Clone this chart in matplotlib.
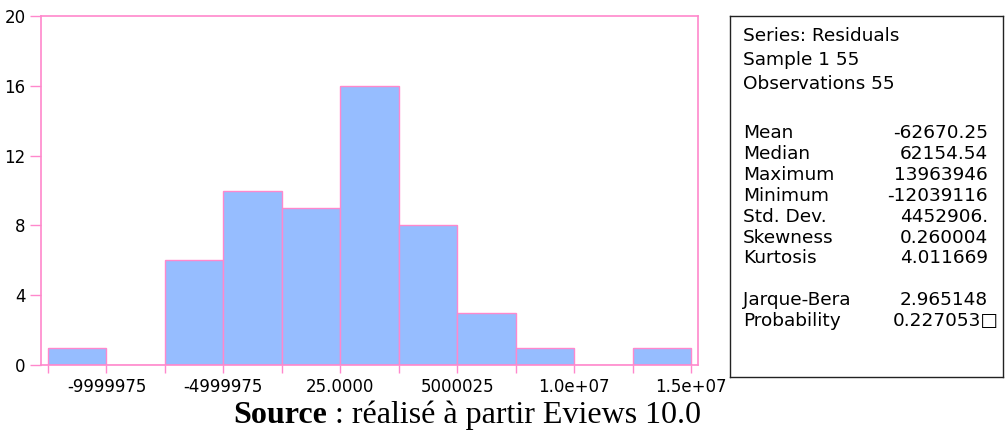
import numpy as np
import matplotlib
matplotlib.use("Agg")
import matplotlib.pyplot as plt

# histogram of residuals (bins of 2.5e6, shifted by 25)
bin_edges = [-12499975, -9999975, -7499975, -4999975, -2499975, 25,
             2500025, 5000025, 7500025, 10000025, 12500025, 15000025]
counts = [1, 0, 6, 10, 9, 16, 8, 3, 1, 0, 1]

xtick_pos = [-9999975, -4999975, 25, 5000025, 10000025, 15000025]
xtick_labels = ["-9999975", "-4999975", "25.0000", "5000025", "1.0e+07", "1.5e+07"]
ytick_pos = [0, 4, 8, 12, 16, 20]

stat_names = ["Mean", "Median", "Maximum", "Minimum", "Std. Dev.",
              "Skewness", "Kurtosis", "Jarque-Bera", "Probability"]
stat_values = ["-62670.25", "62154.54", "13963946", "-12039116", "4452906.",
               "0.260004", "4.011669", "2.965148", "0.227053\u25a1"]
header_lines = ["Series: Residuals", "Sample 1 55", "Observations 55"]

pink = "#ff88cc"
blue = "#96bdff"
W, H = 1007, 432

plt.rcParams['font.family'] = ['DejaVu Sans']
fig = plt.figure(figsize=(W / 100, H / 100), dpi=100)

ax = fig.add_axes([41 / W, 1 - 365 / H, (698 - 41) / W, (365 - 16) / H])
widths = np.diff(bin_edges)
ax.bar(bin_edges[:-1], counts, width=widths, align="edge",
       color=blue, edgecolor=pink, linewidth=1.0)
ax.set_xlim(-12.8e6, 15.3e6)
ax.set_ylim(0, 20)
for s in ax.spines.values():
    s.set_color(pink)
    s.set_linewidth(1.2)
ax.set_xticks(bin_edges, minor=True)
ax.set_xticks(xtick_pos)
ax.set_xticklabels(xtick_labels)
ax.set_yticks(ytick_pos)
ax.tick_params(axis="both", colors=pink, labelcolor="black", labelsize=12, width=1)
ax.tick_params(axis="x", which="both", length=6, pad=3)
ax.tick_params(axis="x", which="minor", colors=pink, width=1)
ax.tick_params(axis="y", length=8, pad=3)

# statistics box
box = fig.add_axes([730 / W, 1 - 377 / H, (1003 - 730) / W, (377 - 16) / H])
box.set_xticks([])
box.set_yticks([])
for s in box.spines.values():
    s.set_color("#222222")
    s.set_linewidth(1)

fs = 13.3
header_y = [36, 60, 84]
stat_y = [133, 154, 175, 196, 217, 238, 258, 300, 321]
for txt, y in zip(header_lines, header_y):
    fig.text(743 / W, 1 - y / H, txt, fontsize=fs, va="center", ha="left")
for name, val, y in zip(stat_names, stat_values, stat_y):
    fig.text(743 / W, 1 - y / H, name, fontsize=fs, va="center", ha="left")
    fig.text(999 / W if val.endswith("\u25a1") else 988 / W, 1 - y / H, val,
             fontsize=fs, va="center", ha="right")

# source line
t1 = fig.text(233 / W, 1 - 423 / H, "Source", fontsize=23, fontweight="bold",
              family="Liberation Serif", va="baseline", ha="left")
fig.canvas.draw()
bb = t1.get_window_extent()
fig.text(bb.x1 / W, 1 - 423 / H, " : réalisé à partir Eviews 10.0", fontsize=23,
         family="Liberation Serif", va="baseline", ha="left")

fig.savefig("out.png", dpi=100)
